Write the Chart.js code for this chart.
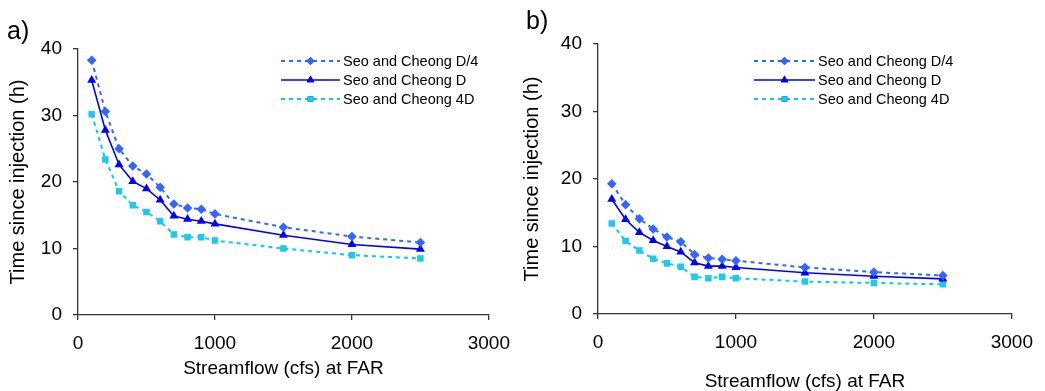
<!DOCTYPE html>
<html>
<head>
<meta charset="utf-8">
<script src="https://cdn.jsdelivr.net/npm/chart.js@4/dist/chart.umd.min.js"></script>
<style>
  html, body { margin: 0; padding: 0; background: #fff; }
  body { width: 1045px; height: 391px; position: relative; overflow: hidden; font-family: "Liberation Sans", Arial, sans-serif; }
  .wrap { position: absolute; top: 0; height: 391px; overflow: hidden; }
  #wa { left: 0; width: 510px; }
  #wb { left: 510px; width: 535px; }
  .lbl { position: absolute; font-size: 25px; color: #000; line-height: 1; }
</style>
</head>
<body>
<div class="wrap" id="wa"><canvas id="ca" width="522" height="391" style="width:522px;height:391px"></canvas></div>
<div class="wrap" id="wb"><canvas id="cb" width="535" height="391" style="width:535px;height:391px"></canvas></div>
<div class="lbl" style="left:7px;top:18px;">a)</div>
<div class="lbl" style="left:526px;top:8px;">b)</div>
<script>
// ---- data ----
const streamflow = [100, 200, 300, 400, 500, 600, 700, 800, 900, 1000, 1500, 2000, 2500];
const seriesNames = ["Seo and Cheong D/4", "Seo and Cheong D", "Seo and Cheong 4D"];

const a_D4 = [38.3, 30.6, 25.0, 22.4, 21.2, 19.2, 16.7, 16.1, 15.9, 15.2, 13.2, 11.8, 10.9];
const a_D  = [35.3, 27.8, 22.6, 20.1, 19.0, 17.3, 14.9, 14.4, 14.1, 13.7, 12.0, 10.6, 9.9];
const a_4D = [30.2, 23.4, 18.6, 16.5, 15.5, 14.1, 12.1, 11.7, 11.7, 11.2, 10.0, 9.0, 8.5];

const b_D4 = [19.3, 16.2, 14.1, 12.6, 11.4, 10.7, 8.8, 8.3, 8.1, 7.9, 6.9, 6.2, 5.7];
const b_D  = [17.0, 14.0, 12.1, 10.9, 10.0, 9.2, 7.6, 7.1, 7.1, 6.9, 6.1, 5.6, 5.2];
const b_4D = [13.4, 10.8, 9.4, 8.2, 7.5, 7.0, 5.5, 5.3, 5.5, 5.3, 4.8, 4.6, 4.4];

const xTicks = [0, 1000, 2000, 3000];
const yTicks = [0, 10, 20, 30, 40];
const xTitle = "Streamflow (cfs) at FAR";
const yTitle = "Time since injection (h)";

// ---- styles ----
const FONT = "'Liberation Sans', Arial, sans-serif";
const styles = [
  { color: '#3366FF', fill: '#3366FF', dash: [4, 4], width: 2, point: 'rectRot', radius: 4.8 },
  { color: '#0000FF', fill: '#0000FF', dash: [], width: 1.6, point: 'triangle', radius: 5.2 },
  { color: '#00CCFF', fill: '#1EC8EE', dash: [4, 4], width: 2, point: 'rect', radius: 4.6 }
];

function makeDatasets(arrs) {
  return arrs.map((vals, i) => ({
    label: seriesNames[i],
    data: streamflow.map((x, k) => ({ x: x, y: vals[k] })),
    borderColor: styles[i].color,
    backgroundColor: styles[i].fill,
    pointBackgroundColor: styles[i].fill,
    pointBorderColor: styles[i].fill,
    borderDash: styles[i].dash,
    borderWidth: styles[i].width,
    pointStyle: styles[i].point,
    pointRadius: styles[i].radius,
    pointBorderWidth: 0,
    tension: 0
  }));
}

const legendPlugin = {
  id: 'customLegend',
  afterDraw(chart, args, opts) {
    const ctx = chart.ctx;
    ctx.save();
    chart.data.datasets.forEach((ds, i) => {
      const y = opts.y0 + i * opts.dy;
      ctx.beginPath();
      ctx.setLineDash(ds.borderDash || []);
      ctx.lineWidth = ds.borderWidth;
      ctx.strokeStyle = ds.borderColor;
      ctx.moveTo(opts.x0, y);
      ctx.lineTo(opts.x1, y);
      ctx.stroke();
      ctx.setLineDash([]);
      Chart.helpers.drawPoint(ctx, {
        pointStyle: ds.pointStyle, radius: ds.pointRadius * 0.85, rotation: 0, borderWidth: 0
      }, (opts.x0 + opts.x1) / 2, y);
      ctx.fillStyle = ds.pointBackgroundColor;
      ctx.fill();
      ctx.fillStyle = '#000';
      ctx.font = '14.5px ' + FONT;
      ctx.textBaseline = 'middle';
      ctx.textAlign = 'left';
      ctx.fillText(ds.label, opts.x1 + 3, y + 1);
    });
    ctx.restore();
  }
};

function makeChart(id, arrs, cfg) {
  return new Chart(document.getElementById(id), {
    type: 'line',
    data: { datasets: makeDatasets(arrs) },
    plugins: [legendPlugin],
    options: {
      responsive: false,
      animation: false,
      layout: { padding: { top: cfg.top, right: cfg.right, left: 0, bottom: 0 } },
      plugins: {
        legend: { display: false },
        tooltip: { enabled: false },
        customLegend: cfg.legend
      },
      scales: {
        x: {
          type: 'linear', min: 0, max: 3000,
          afterBuildTicks(s) { s.ticks = xTicks.map(v => ({ value: v })); },
          afterFit(s) { s.height = cfg.xHeight; },
          border: { display: true, color: '#333', width: 1.3 },
          grid: { display: true, drawOnChartArea: false, drawTicks: true, tickLength: 5, color: '#333', lineWidth: 1.3 },
          ticks: { color: '#000', font: { size: 19, family: FONT }, padding: 12, maxRotation: 0, callback: v => String(v) },
          title: { display: true, text: xTitle, color: '#000', font: { size: 19, family: FONT }, padding: { top: 0, bottom: cfg.xTitlePad } }
        },
        y: {
          type: 'linear', min: 0, max: 40,
          afterBuildTicks(s) { s.ticks = yTicks.map(v => ({ value: v })); },
          afterFit(s) { s.width = cfg.yWidth; },
          border: { display: true, color: '#333', width: 1.3 },
          grid: { display: true, drawOnChartArea: false, drawTicks: true, tickLength: 5, color: '#333', lineWidth: 1.3 },
          ticks: { color: '#000', font: { size: 19, family: FONT }, padding: 11, callback: v => String(v) },
          title: { display: true, text: yTitle, color: '#000', font: { size: 20, family: FONT }, padding: { top: cfg.yTitlePad, bottom: 0 } }
        }
      }
    }
  });
}

makeChart('ca', [a_D4, a_D, a_4D], {
  top: 49, right: 31, xHeight: 76, yWidth: 78, xTitlePad: 11, yTitlePad: 6,
  legend: { x0: 281, x1: 340, y0: 61, dy: 19 }
});
makeChart('cb', [b_D4, b_D, b_4D], {
  top: 44, right: 26, xHeight: 77, yWidth: 88, xTitlePad: -2, yTitlePad: 10,
  legend: { x0: 244, x1: 305, y0: 61, dy: 19 }
});
</script>
</body>
</html>
